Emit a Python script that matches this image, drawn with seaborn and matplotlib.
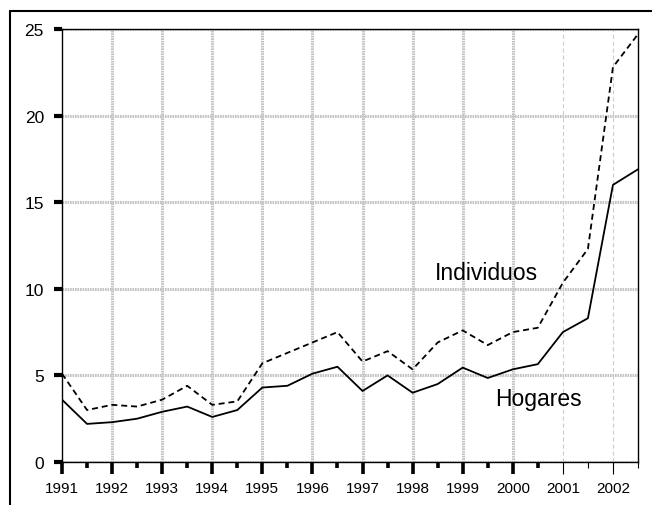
import numpy as np
import pandas as pd
import matplotlib
matplotlib.use("Agg")
import matplotlib.pyplot as plt
import seaborn as sns
from matplotlib.lines import Line2D

# half-year observations, 1991 to mid 2002
periods = [1991.0, 1991.5, 1992.0, 1992.5, 1993.0, 1993.5, 1994.0, 1994.5,
           1995.0, 1995.5, 1996.0, 1996.5, 1997.0, 1997.5, 1998.0, 1998.5,
           1999.0, 1999.5, 2000.0, 2000.5, 2001.0, 2001.5, 2002.0, 2002.5]
hogares = [3.6, 2.2, 2.3, 2.5, 2.9, 3.2, 2.6, 3.0,
           4.3, 4.4, 5.1, 5.5, 4.1, 5.0, 4.0, 4.5,
           5.45, 4.85, 5.35, 5.65, 7.5, 8.3, 16.0, 16.9]
individuos = [5.1, 3.0, 3.3, 3.2, 3.6, 4.4, 3.3, 3.5,
              5.7, 6.3, 6.9, 7.5, 5.8, 6.4, 5.35, 6.9,
              7.6, 6.75, 7.5, 7.75, 10.35, 12.3, 22.8, 24.7]
series_names = ["Hogares", "Individuos"]
year_ticks = list(range(1991, 2003))
y_ticks = [0, 5, 10, 15, 20, 25]

df = pd.DataFrame({
    "periodo": periods * 2,
    "valor": hogares + individuos,
    "serie": [series_names[0]] * len(periods) + [series_names[1]] * len(periods),
})

sns.set_style("white")
plt.rcParams["font.family"] = ["Liberation Sans", "DejaVu Sans"]
plt.rcParams.update({
    "lines.scale_dashes": False,
    "text.color": "black",
    "xtick.color": "black",
    "ytick.color": "black",
    "xtick.labelcolor": "black",
    "ytick.labelcolor": "black",
})

fig = plt.figure(figsize=(6.52, 5.06), dpi=100)
ax = fig.add_axes([62 / 652, 1 - 463 / 506, (638 - 62) / 652, (463 - 30) / 506])

sns.lineplot(data=df, x="periodo", y="valor", style="serie", color="black",
             dashes={"Hogares": "", "Individuos": (4.3, 2.8)},
             linewidth=1.3, legend=False, ax=ax)

ax.set_xlim(1991, 2002.5)
ax.set_ylim(0, 25)
ax.set_xlabel("")
ax.set_ylabel("")

ax.set_xticks(year_ticks)
ax.set_xticks(periods[1::2], minor=True)
ax.set_yticks(y_ticks)

ax.set_axisbelow(True)
grid_kw = dict(color="#c4c4c4", linestyle=(0, (1.2, 0.6)), linewidth=2.2)
ax.grid(axis="y", which="major", **grid_kw)
ax.grid(axis="x", which="major", **grid_kw)

ax.tick_params(axis="x", which="major", direction="out", length=8.5, width=2.6,
               color="black", pad=5, labelsize=11, labelcolor="black")
ax.tick_params(axis="x", which="minor", direction="out", length=4.5, width=2.6,
               color="black")
ax.tick_params(axis="y", which="major", direction="out", length=6, width=3,
               color="black", pad=7, labelsize=12.5, labelcolor="black")
ax.tick_params(left=True, bottom=True)
ax.tick_params(axis="x", which="minor", bottom=True)

# later years are drawn with thin grey ticks and lighter grid
for tick, loc in zip(ax.xaxis.get_major_ticks(), year_ticks):
    if loc >= 2001:
        tick.tick1line.set_color("#666666")
        tick.tick1line.set_markeredgewidth(0.8)
        tick.gridline.set_linewidth(0.8)
        tick.gridline.set_linestyle((0, (3, 2)))
        tick.gridline.set_color("#cccccc")
    if loc == 1991:
        tick.gridline.set_visible(False)
for tick, loc in zip(ax.xaxis.get_minor_ticks(), periods[1::2]):
    if loc >= 2001:
        tick.tick1line.set_color("#666666")
        tick.tick1line.set_markeredgewidth(0.8)

for side in ["left", "bottom", "top", "right"]:
    ax.spines[side].set_visible(True)
    ax.spines[side].set_color("black")
    ax.spines[side].set_linewidth(1.0)

ax.text(1999.48, 10.95, "Individuos", ha="center", va="center", fontsize=16.5,
        color="black")
ax.text(2000.51, 3.68, "Hogares", ha="center", va="center", fontsize=16.5,
        color="black")

# outer frame (top and left edges visible)
fig.add_artist(Line2D([10 / 652, 10 / 652], [0, 1 - 11.5 / 506],
                      transform=fig.transFigure, color="black", lw=1.5))
fig.add_artist(Line2D([10 / 652, 1], [1 - 11.5 / 506, 1 - 11.5 / 506],
                      transform=fig.transFigure, color="black", lw=1.5))

fig.savefig("out.png", dpi=100)
